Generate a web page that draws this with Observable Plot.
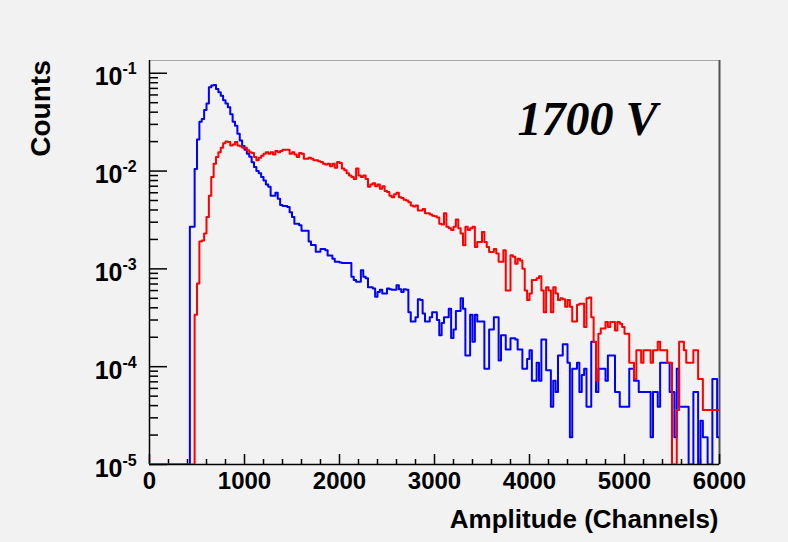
<!DOCTYPE html>
<html>
<head>
<meta charset="utf-8">
<script src="https://cdn.jsdelivr.net/npm/d3@7"></script>
<script src="https://cdn.jsdelivr.net/npm/@observablehq/plot@0.6"></script>
<style>
  html, body { margin: 0; padding: 0; background: #f2f2f2; }
  #chart { width: 788px; height: 542px; }
</style>
</head>
<body>
<div id="chart"></div>
<script>
// Histogram binning (channels)
const binWidth = 25;
const xMax = 6000;

// Blue series (normalised counts per 25-channel bin, 240 bins)
const blueCounts = [
  0,0,0,0,0,0,0,0,0,0,0,0,0,0,0,0,0,
  2.7e-3,2.7e-3,1.05e-2,2.1e-2,3.2e-2,3.4e-2,4.2e-2,4.9e-2,7.2e-2,7.5e-2,
  7.6e-2,6.9e-2,6.4e-2,5.9e-2,5.3e-2,4.9e-2,4.5e-2,3.8e-2,3.2e-2,2.9e-2,
  2.4e-2,2.05e-2,1.8e-2,1.65e-2,1.5e-2,1.4e-2,1.23e-2,1.1e-2,1.0e-2,9.5e-3,
  8.7e-3,8.0e-3,7.3e-3,6.9e-3,5.6e-3,5.6e-3,6.0e-3,5.2e-3,4.5e-3,4.4e-3,
  4.4e-3,4.3e-3,3.8e-3,3.4e-3,2.9e-3,2.9e-3,2.8e-3,2.45e-3,2.45e-3,2.45e-3,
  1.9e-3,1.75e-3,1.75e-3,1.5e-3,1.5e-3,1.6e-3,1.6e-3,1.55e-3,1.37e-3,1.37e-3,
  1.27e-3,1.18e-3,1.18e-3,1.16e-3,1.15e-3,1.15e-3,1.15e-3,1.15e-3,8.3e-4,7.7e-4,
  7.4e-4,7.4e-4,9.7e-4,8.3e-4,8.0e-4,6.5e-4,6.5e-4,6.3e-4,5.2e-4,5.8e-4,
  6.1e-4,5.6e-4,5.6e-4,6.3e-4,6.2e-4,6.1e-4,6.1e-4,6.8e-4,6.2e-4,5.8e-4,
  6.2e-4,6.1e-4,3.6e-4,2.9e-4,2.9e-4,3.2e-4,4.9e-4,4.8e-4,3.5e-4,2.9e-4,
  2.9e-4,3.2e-4,3.6e-4,3.6e-4,3.0e-4,2.1e-4,2.8e-4,3.2e-4,3.2e-4,3.9e-4,
  1.96e-4,2.4e-4,3.7e-4,3.7e-4,5.0e-4,3.9e-4,1.3e-4,1.3e-4,3.4e-4,1.8e-4,
  3.4e-4,2.9e-4,2.9e-4,2.9e-4,9.5e-5,9.5e-5,2.4e-4,2.4e-4,3.2e-4,3.2e-4,
  1.16e-4,2.1e-4,2.1e-4,1.5e-4,1.5e-4,1.95e-4,1.95e-4,1.9e-4,1.5e-4,1.5e-4,
  9.5e-5,9.5e-5,1.2e-4,1.47e-4,7.2e-5,7.2e-5,1.1e-4,7.2e-5,1.9e-4,1.9e-4,
  9.2e-5,9.2e-5,3.9e-5,7.2e-5,5.5e-5,1.3e-4,1.3e-4,1.7e-4,1.7e-4,1.1e-4,
  1.9e-5,9.5e-5,9.5e-5,1.1e-4,5.5e-5,8.2e-5,9.5e-5,3.9e-5,3.9e-5,1.8e-4,
  1.8e-4,5.5e-5,9.5e-5,9.5e-5,9.5e-5,7.2e-5,1.3e-4,1.3e-4,1.3e-4,5.5e-5,
  5.5e-5,3.9e-5,3.9e-5,3.9e-5,3.9e-5,9.5e-5,9.5e-5,7.2e-5,7.2e-5,5.5e-5,
  5.5e-5,5.5e-5,5.5e-5,5.5e-5,1.9e-5,5.5e-5,5.5e-5,3.9e-5,1.1e-4,1.1e-4,
  1.1e-4,1.1e-4,5.5e-5,5.5e-5,1.9e-5,9.5e-5,3.9e-5,3.9e-5,3.9e-5,3.9e-5,
  0,0,5.5e-5,5.5e-5,0,2.8e-5,1.9e-5,1.9e-5,0,0,
  7.5e-5,7.5e-5,1.9e-5
];

// Red series (normalised counts per 25-channel bin, 240 bins)
const redCounts = [
  0,0,0,0,0,0,0,0,0,0,0,0,0,0,0,0,0,0,0,
  3.4e-4,7.1e-4,1.9e-3,1.95e-3,2.3e-3,3.4e-3,5.6e-3,8.7e-3,1.19e-2,1.39e-2,
  1.56e-2,1.73e-2,1.93e-2,2.0e-2,1.98e-2,1.83e-2,1.87e-2,1.98e-2,1.83e-2,1.79e-2,
  1.73e-2,1.73e-2,1.63e-2,1.56e-2,1.53e-2,1.39e-2,1.29e-2,1.37e-2,1.43e-2,1.5e-2,
  1.56e-2,1.5e-2,1.56e-2,1.48e-2,1.6e-2,1.56e-2,1.6e-2,1.65e-2,1.65e-2,1.65e-2,
  1.5e-2,1.56e-2,1.48e-2,1.39e-2,1.53e-2,1.5e-2,1.34e-2,1.34e-2,1.37e-2,1.34e-2,
  1.29e-2,1.29e-2,1.26e-2,1.24e-2,1.19e-2,1.17e-2,1.19e-2,1.12e-2,1.19e-2,1.08e-2,
  1.24e-2,1.21e-2,1.06e-2,1.02e-2,9.5e-3,9.0e-3,8.7e-3,8.3e-3,1.06e-2,9.0e-3,
  8.7e-3,9.0e-3,8.3e-3,6.9e-3,7.3e-3,7.5e-3,7.0e-3,7.3e-3,6.6e-3,7.0e-3,
  6.25e-3,6.1e-3,5.6e-3,5.4e-3,5.8e-3,6.0e-3,5.4e-3,5.3e-3,5.1e-3,5.0e-3,
  4.8e-3,4.45e-3,4.35e-3,4.45e-3,3.95e-3,3.95e-3,4.1e-3,3.7e-3,3.7e-3,3.6e-3,
  3.5e-3,3.45e-3,3.35e-3,2.9e-3,2.85e-3,3.7e-3,2.7e-3,2.6e-3,2.5e-3,2.7e-3,
  3.2e-3,2.6e-3,2.3e-3,1.74e-3,2.7e-3,2.5e-3,2.6e-3,2.7e-3,1.67e-3,1.88e-3,
  1.88e-3,2.38e-3,1.88e-3,1.67e-3,1.49e-3,1.49e-3,1.6e-3,1.44e-3,1.18e-3,1.18e-3,
  1.55e-3,6.0e-4,6.0e-4,1.38e-3,1.33e-3,1.13e-3,1.27e-3,1.22e-3,1.0e-3,6.0e-4,
  4.8e-4,5.6e-4,7.7e-4,7.7e-4,8.0e-4,8.4e-4,6.0e-4,3.6e-4,6.5e-4,6.0e-4,
  3.6e-4,6.5e-4,5.6e-4,4.8e-4,5.0e-4,4.9e-4,4.1e-4,4.8e-4,4.1e-4,2.9e-4,
  2.9e-4,4.3e-4,4.4e-4,4.4e-4,2.55e-4,5.0e-4,5.1e-4,3.2e-4,1.79e-4,7.2e-5,
  2.17e-4,2.45e-4,2.45e-4,2.86e-4,2.55e-4,2.86e-4,2.86e-4,2.35e-4,2.86e-4,2.75e-4,
  2.55e-4,2.17e-4,2.17e-4,1.1e-4,1.1e-4,7.5e-5,1.47e-4,1.47e-4,1.1e-4,1.47e-4,
  1.47e-4,1.47e-4,1.1e-4,1.47e-4,1.47e-4,1.8e-4,1.47e-4,1.47e-4,1.47e-4,1.1e-4,
  1.1e-4,0,0,3.6e-5,1.8e-4,1.8e-4,1.47e-4,1.1e-4,1.1e-4,1.1e-4,
  1.47e-4,1.47e-4,7.5e-5,7.5e-5,3.6e-5,3.6e-5,3.6e-5,3.6e-5,3.6e-5,3.6e-5,
  3.6e-5
];

// Axis ticks and labels
const yMin = 1e-5, yMax = 0.135;
const yMajorTicks = [1e-5, 1e-4, 1e-3, 1e-2, 1e-1];
const yTickBase = ["10", "10", "10", "10", "10"];
const yTickExp = ["-5", "-4", "-3", "-2", "-1"];
const yMinorTicks = [
  2e-5,3e-5,4e-5,5e-5,6e-5,7e-5,8e-5,9e-5,
  2e-4,3e-4,4e-4,5e-4,6e-4,7e-4,8e-4,9e-4,
  2e-3,3e-3,4e-3,5e-3,6e-3,7e-3,8e-3,9e-3,
  2e-2,3e-2,4e-2,5e-2,6e-2,7e-2,8e-2,9e-2
];
const xMajorTicks = [0, 1000, 2000, 3000, 4000, 5000, 6000];
const xTickLabels = ["0", "1000", "2000", "3000", "4000", "5000", "6000"];
const xMinorTicks = [200,400,600,800,1200,1400,1600,1800,2200,2400,2600,2800,
  3200,3400,3600,3800,4200,4400,4600,4800,5200,5400,5600,5800];

const xTitle = "Amplitude (Channels)";
const yTitle = "Counts";
const annotation = "1700 V";

function toSteps(counts) {
  const pts = counts.map((v, k) => ({x: k * binWidth, y: Math.max(v, yMin)}));
  pts.push({x: counts.length * binWidth, y: Math.max(counts[counts.length - 1], yMin)});
  return pts;
}
const blueSteps = toSteps(blueCounts);
const redSteps = toSteps(redCounts);

const font = "'Liberation Sans', Arial, Helvetica, sans-serif";

const chart = Plot.plot({
  width: 788,
  height: 542,
  marginLeft: 149,
  marginRight: 69,
  marginTop: 60,
  marginBottom: 78,
  style: {background: "#f2f2f2", fontFamily: font, color: "black", overflow: "visible"},
  x: {domain: [0, xMax], axis: null},
  y: {type: "log", domain: [yMin, yMax], axis: null},
  marks: [
    Plot.frame({stroke: "#a8a8a8", strokeWidth: 1}),
    Plot.ruleX([xMax], {stroke: "#505050", strokeWidth: 2}),
    // y ticks (inside)
    Plot.axisY(yMajorTicks, {anchor: "left", label: null, tickSize: -18, tickFormat: () => "", stroke: "black", strokeWidth: 1.5}),
    Plot.axisY(yMinorTicks, {anchor: "left", label: null, tickSize: -9, tickFormat: () => "", stroke: "black", strokeWidth: 1.5}),
    // x ticks (inside)
    Plot.axisX(xMajorTicks, {anchor: "bottom", label: null, tickSize: -10, tickFormat: () => "", stroke: "black", strokeWidth: 1.5}),
    Plot.axisX(xMinorTicks, {anchor: "bottom", label: null, tickSize: -5, tickFormat: () => "", stroke: "black", strokeWidth: 1.5}),
    // axis lines
    Plot.ruleX([0], {stroke: "black", strokeWidth: 1.5}),
    Plot.ruleY([yMin], {stroke: "black", strokeWidth: 1.5}),
    // histograms
    Plot.line(blueSteps, {x: "x", y: "y", curve: "step-after", stroke: "#0000ff", strokeWidth: 2, clip: true}),
    Plot.line(redSteps, {x: "x", y: "y", curve: "step-after", stroke: "#ff0000", strokeWidth: 2, clip: true}),
    // y tick labels: base "10" + superscript exponent
    Plot.text(yMajorTicks, {y: d => d, text: (d, i) => yTickBase[i], frameAnchor: "left", lineAnchor: "middle", dx: -27, dy: 4,
      textAnchor: "end", fontSize: 25, fontWeight: "bold", fill: "black"}),
    Plot.text(yMajorTicks, {y: d => d, text: (d, i) => yTickExp[i], frameAnchor: "left", lineAnchor: "middle", dx: -27, dy: -4,
      textAnchor: "start", fontSize: 16, fontWeight: "bold", fill: "black"}),
    // x tick labels
    Plot.text(xMajorTicks, {x: d => d, text: (d, i) => xTickLabels[i], frameAnchor: "bottom", lineAnchor: "middle", dy: 17,
      textAnchor: "middle", fontSize: 24, fontWeight: "bold", fill: "black"}),
    // axis titles
    Plot.text([xTitle], {text: d => d, frameAnchor: "bottom-right", lineAnchor: "middle", dx: -1, dy: 55, textAnchor: "end",
      fontSize: 26, fontWeight: "bold", fill: "black"}),
    Plot.text([yTitle], {text: d => d, frameAnchor: "top-left", lineAnchor: "middle", dx: -108, dy: 48, rotate: -90, textAnchor: "middle",
      fontSize: 28, fontWeight: "bold", fill: "black"}),
    // annotation
    Plot.text([annotation], {text: d => d, frameAnchor: "top-right", lineAnchor: "middle", dx: -62, dy: 59, textAnchor: "end",
      fontSize: 48, fontWeight: "bold", fontStyle: "italic", fontFamily: "'Liberation Serif', 'Times New Roman', serif", fill: "black"})
  ]
});
document.getElementById("chart").appendChild(chart);
</script>
</body>
</html>
